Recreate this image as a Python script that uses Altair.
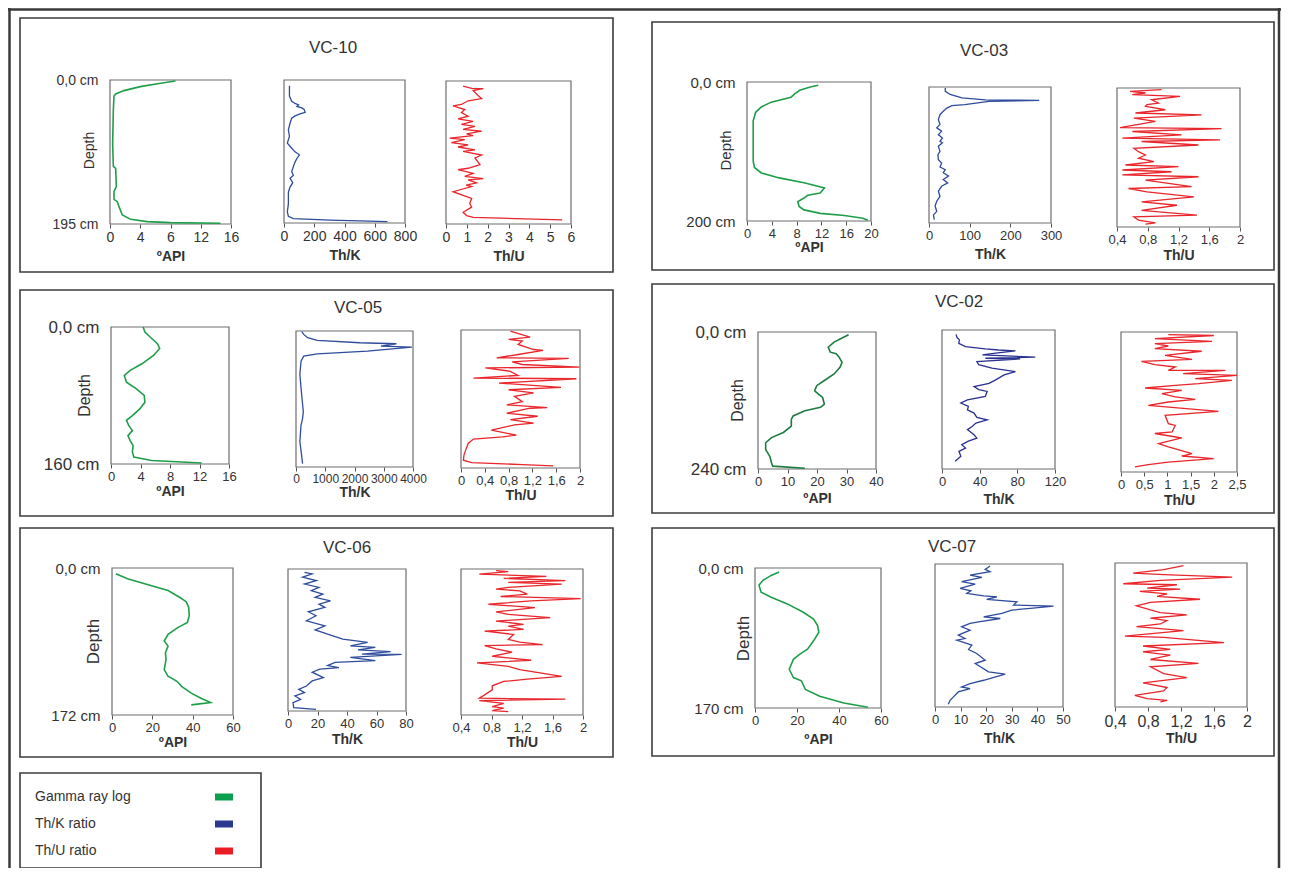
import altair as alt
import pandas as pd

# ---------------- data (depth in cm) ----------------
VC10_GR_DEPTH = [1.4, 4.5, 9, 14.4, 19, 21.7, 40.6, 85.8, 117, 119.7, 144.4, 151, 161.6, 164.8, 171.5, 182.8, 188.7, 191.8, 193.2, 194]
VC10_GR_API = [8.66, 6.7, 4.0, 1.85, 0.75, 0.53, 0.44, 0.35, 0.44, 0.75, 0.84, 0.53, 0.53, 0.97, 1.19, 1.63, 2.73, 4.9, 8.0, 14.6]
VC10_THK_DEPTH = [8, 22, 29, 32, 34, 36, 38, 40, 44, 46, 49, 52, 59, 68, 77, 86, 93, 98, 102, 107, 112, 118, 125, 130, 134, 140, 146, 153, 169, 180, 186, 189, 191, 193]
VC10_THK = [36, 36, 51, 73, 96, 85, 118, 133, 140, 111, 73, 51, 40, 29, 36, 22, 51, 73, 102, 85, 73, 62, 51, 62, 40, 58, 40, 29, 29, 22, 29, 62, 307, 684]
VC10_THU_DEPTH = [7, 10, 10.5, 13, 20, 24, 27, 32, 34, 39, 43, 48, 51.5, 55, 59, 62, 66, 68.5, 72, 74.5, 78, 80, 84, 87, 90, 94, 96, 101, 105, 114, 119, 121, 126, 130, 133, 135, 139, 142, 144, 151, 156, 160, 167, 172, 179, 183.5, 186, 187.6, 189.5]
VC10_THU = [0.82, 1.23, 1.79, 1.3, 1.55, 1.71, 1.06, 0.74, 0.34, 0.9, 0.74, 1.06, 0.58, 1.3, 0.74, 1.39, 0.82, 1.71, 0.99, 1.3, 0.18, 0.9, 0.26, 1.06, 0.58, 1.39, 0.82, 1.71, 1.39, 1.63, 1.06, 0.58, 1.3, 0.9, 1.79, 1.06, 1.47, 0.97, 1.23, 0.34, 0.82, 1.23, 1.14, 1.23, 0.82, 0.99, 1.3, 3.32, 5.58]

VC03_GR_DEPTH = [4.8, 7.3, 12, 17, 21.8, 29, 36, 43.6, 55.7, 113.8, 123, 130.8, 138, 145, 152.5, 159.8, 163, 167, 172, 179, 184, 189, 192, 196, 199]
VC03_GR_API = [11.5, 10.2, 8.5, 7.7, 7.1, 3.9, 2.3, 1.4, 1.0, 1.0, 1.2, 2.3, 5.2, 9.2, 12.5, 11.8, 9.8, 9.2, 8.2, 8.4, 9.2, 11.8, 15.7, 18.7, 19.5]
VC03_THK_DEPTH = [1.5, 6.4, 11, 16, 19, 19.8, 21, 26, 27.5, 31, 35.8, 40.7, 48, 55, 60, 65, 70, 75, 80, 82, 87, 94.6, 99.5, 107, 112, 117.6, 121.6, 126, 131, 136, 141, 146, 153, 161, 168, 175, 183, 188, 195]
VC03_THK = [40, 40, 52, 81, 139, 271, 147, 88, 56, 44, 35, 27, 23, 27, 19, 31, 23, 33, 27, 33, 23, 27, 22, 23, 31, 27, 40, 35, 48, 35, 46, 31, 23, 27, 19, 15, 19, 11, 13]
VC03_THU_DEPTH = [2.4, 4.8, 7.2, 9.6, 12, 16.9, 21.7, 24, 26.5, 31.3, 36, 38.6, 43.4, 48, 57, 58.5, 62.6, 67.5, 72, 74.7, 77, 82, 86.7, 91.6, 96.4, 101, 106, 110.8, 113, 118, 120.5, 125, 127.7, 132.5, 142, 144.6, 149.4, 156.6, 163.9, 168.7, 176, 183, 185.5, 190, 194, 196]
VC03_THU = [0.98, 0.57, 0.77, 0.6, 1.22, 0.85, 0.94, 0.79, 0.77, 1.03, 0.64, 1.5, 0.62, 0.9, 0.44, 1.76, 0.6, 1.24, 0.47, 1.74, 0.72, 1.46, 0.62, 0.68, 0.77, 0.68, 0.88, 0.51, 1.2, 0.47, 1.11, 0.47, 1.46, 0.77, 1.37, 0.55, 0.79, 1.4, 0.72, 1.18, 0.72, 1.44, 0.62, 0.68, 0.9, 0.77]

VC05_GR_DEPTH = [0, 5.9, 11.7, 19.5, 25, 33, 43, 50.7, 56.6, 64.4, 72, 80, 87.8, 95.7, 103.4, 109, 115, 121, 127, 132.7, 138.5, 146, 152, 156, 158.8]
VC05_GR_API = [4.35, 4.6, 5.3, 6.3, 6.6, 5.8, 4.2, 2.6, 1.8, 2.1, 3.4, 4.5, 4.6, 3.9, 2.9, 2.1, 2.4, 2.9, 2.3, 2.6, 3.0, 2.9, 3.1, 5.5, 12.3]
VC05_THK_DEPTH = [0.8, 4, 7.9, 11, 13.8, 15, 17.8, 19, 23.7, 26.9, 29.6, 35.5, 51, 67, 95, 103, 110.6, 130, 148, 156]
VC05_THK = [198, 264, 396, 726, 2178, 3432, 2904, 3960, 2442, 726, 264, 172, 132, 172, 250, 224, 172, 132, 198, 224]
VC05_THU_DEPTH = [1.2, 8.2, 10.9, 12.8, 16.7, 22.6, 23.7, 28.4, 32.3, 33, 37, 40, 43, 44, 47.9, 52.6, 55.7, 56.5, 61.5, 66.6, 69.3, 73, 77, 83, 86.8, 90, 90.7, 96.5, 100, 104, 108, 110, 116, 122, 123.8, 126.5, 131.5, 139, 145, 151, 153.8, 156, 157.6]
VC05_THU = [0.83, 1.16, 0.8, 1.03, 0.96, 1.22, 1.38, 0.96, 0.6, 1.81, 0.86, 1.03, 1.99, 0.41, 0.83, 0.96, 0.21, 1.94, 0.64, 1.68, 0.8, 1.22, 0.9, 1.03, 0.77, 1.45, 1.16, 0.77, 1.29, 0.83, 1.22, 0.9, 0.51, 0.93, 0.7, 0.21, 0.12, 0.08, 0.05, 0.04, 0.18, 1.03, 1.55]

VC02_GR_DEPTH = [4.7, 10.6, 17.6, 26.5, 35.3, 38, 44, 53, 61.8, 73.5, 85, 94, 103, 108.8, 114.7, 126.5, 132, 138, 147, 153, 164.7, 176, 185, 194, 206, 217.6, 229.4, 235, 238.8]
VC02_GR_API = [30.7, 28.5, 25.8, 23.8, 24.5, 26.5, 27.5, 28.5, 27.8, 25.8, 22.5, 19.9, 19.2, 20.5, 21.9, 22.5, 21.2, 15.9, 11.9, 11.3, 11.3, 8.6, 4.6, 2.6, 2.6, 4.0, 4.6, 5.0, 15.9]
VC02_THK_DEPTH = [7.5, 13, 17, 23, 28.7, 32.7, 34.5, 36, 40, 43, 47, 48.8, 50, 54.5, 60, 66, 71.8, 77.5, 86, 92, 97.6, 103, 106, 114.8, 120.6, 126, 132, 137.8, 143.5, 151, 155, 160.8, 166.5, 172, 181, 186.7, 192, 198, 203.8, 209.5, 218, 226.8]
VC02_THK = [14.9, 16, 18.5, 17.8, 24.9, 46, 60, 78, 57, 43, 99, 46, 83, 37, 39, 53, 78, 66, 57, 50, 34, 39, 48, 46, 27, 20, 28, 27, 34, 37, 48, 36, 32, 27, 34, 37, 28, 21, 25, 18, 20, 14]
VC02_THU_DEPTH = [4.5, 6, 11.4, 16, 20, 24, 28.6, 33, 40, 46.9, 50.4, 56, 60, 65.7, 65.8, 71.4, 74.3, 80, 82.8, 88.6, 91.4, 96, 100, 105.7, 111.4, 115.4, 120, 125.7, 136, 142.8, 157, 160, 171.4, 174, 181.7, 191.4, 197, 208.6, 212.6, 217, 223, 227.4, 231.4]
VC02_THU = [1.02, 2.0, 0.73, 1.96, 0.73, 1.02, 0.73, 1.74, 0.95, 1.53, 0.44, 0.73, 1.17, 1.02, 2.25, 1.34, 2.5, 1.6, 2.39, 1.67, 1.17, 0.52, 1.31, 0.88, 1.17, 1.6, 1.02, 0.59, 2.1, 0.95, 1.02, 1.17, 1.1, 0.73, 1.31, 0.81, 1.02, 1.53, 1.31, 2.0, 1.02, 0.59, 0.3]

VC06_GR_DEPTH = [6.7, 12.6, 20.5, 26.4, 34.2, 39.4, 46, 55.9, 63.8, 69.7, 77.5, 85.4, 91.3, 99.2, 107, 118.9, 126.7, 132.6, 138.5, 146.4, 152.3, 157.4, 160.2]
VC06_GR_API = [1.9, 7.7, 19.2, 27.8, 33.5, 36.8, 38, 38.3, 37.4, 32.6, 27.8, 25.9, 27.8, 26.5, 26.8, 25.9, 27.8, 32.2, 34.5, 39.3, 44.1, 48.9, 39.3]
VC06_THK_DEPTH = [4, 6, 10, 14, 18.2, 22.3, 26.3, 30.4, 34.4, 38.5, 42.5, 46.5, 51.8, 56.6, 62.7, 68.8, 73.7, 79, 85, 89, 93, 95, 98, 100, 103, 103.5, 107, 111, 113, 117, 119.4, 121.4, 125, 131.5, 135.6, 141.7, 145.7, 149.8, 153.8, 157.9, 162, 168, 170]
VC06_THK = [11.2, 16.4, 9.9, 19.2, 11.2, 21, 15.8, 23.6, 18.4, 28.8, 21, 25, 13.8, 19, 12.5, 25, 18.4, 26.8, 37.1, 54, 42.3, 59.2, 47.5, 69.6, 50.2, 77, 42.3, 59.2, 31.9, 26.8, 34.5, 21.6, 16.4, 24, 16.4, 12.5, 7.3, 11.2, 4.7, 8.6, 3.4, 3.9, 19]
VC06_THU_DEPTH = [2, 3, 6, 8.7, 11, 13.8, 15.8, 17.8, 21.7, 23.7, 25.7, 29.7, 32.4, 34.8, 37.6, 41.5, 45.5, 50.6, 53.4, 57.3, 61.3, 65.2, 67.2, 71.2, 73.1, 77.1, 83, 86.2, 89, 90.2, 94.2, 98, 102.8, 107.5, 110.7, 114.7, 118.6, 126.6, 129.7, 132.5, 137.6, 142.4, 148.3, 152.2, 153.4, 155, 158.2, 162.2, 164, 166.9, 168]
VC06_THU = [0.86, 1.02, 0.64, 1.52, 0.96, 1.77, 1.02, 1.72, 1.02, 0.86, 1.17, 1.27, 0.92, 1.97, 1.32, 0.76, 1.37, 0.86, 1.02, 1.57, 0.86, 1.22, 1.02, 1.22, 0.71, 1.09, 1.02, 1.17, 1.47, 0.71, 0.86, 1.07, 0.81, 1.32, 0.61, 1.02, 1.17, 1.72, 1.27, 0.96, 0.81, 0.81, 0.71, 0.64, 1.77, 0.64, 0.96, 0.81, 0.96, 0.81, 1.02]

VC07_GR_DEPTH = [4.9, 9, 15, 21, 29.4, 35.5, 43.6, 53.8, 62, 70, 78, 88.4, 98.6, 104.8, 110.9, 123, 133, 137, 147.5, 155.7, 163.9, 169]
VC07_GR_API = [11.5, 7.7, 3.8, 1.9, 2.9, 7.7, 15.4, 23, 27.9, 29.8, 30.4, 27.9, 25, 21.2, 18.3, 16.3, 18.3, 22.1, 24, 30.8, 42.3, 53.8]
VC07_THK_DEPTH = [2.4, 6.4, 9.1, 13.1, 15.9, 21, 23.8, 29, 31.8, 35, 38, 39, 42, 44.9, 48.8, 50, 52.8, 54.8, 58.8, 62.8, 64.8, 68.7, 70.7, 74.7, 78.7, 84.6, 88.6, 90.6, 96.5, 101.6, 106.4, 114.4, 118.3, 128.2, 131, 138.2, 142.2, 146.2, 148.1, 152.1, 158, 162, 166.8]
VC07_THK = [21.5, 19.6, 21.5, 13.7, 18.3, 10.4, 15.7, 9.8, 14, 12.4, 19, 24.2, 20.2, 32, 30.7, 46.3, 37.2, 30, 26.1, 19, 25.5, 17, 13.7, 10.4, 13.7, 9.1, 11.7, 8.5, 14.4, 13.1, 16.3, 19.6, 15.7, 20.9, 27.4, 19, 13.7, 10.4, 13.7, 9.1, 7.2, 5.9, 5.2]
VC07_THU_DEPTH = [3.2, 7.9, 11.9, 13.8, 16.6, 20.6, 24.5, 25.7, 29.6, 30.8, 33.6, 36.4, 39.5, 42.8, 46.6, 50.6, 55.4, 58.5, 61.3, 65.2, 68, 72, 75.1, 79.9, 86.3, 87.8, 94, 98, 102, 104.8, 108.7, 113.9, 118.6, 122.6, 130.5, 135.2, 141.6, 147, 151, 156.2, 160.2, 162.1, 164]
VC07_THU = [1.23, 0.99, 0.62, 0.99, 1.82, 0.95, 0.5, 1.15, 0.79, 1.19, 0.7, 1.03, 0.91, 1.43, 0.83, 0.66, 0.83, 0.95, 1.27, 0.83, 1.03, 0.95, 0.66, 1.23, 0.52, 0.99, 1.72, 0.74, 1.07, 0.74, 1.07, 0.83, 1.41, 0.83, 0.99, 1.27, 0.74, 1.03, 0.99, 0.64, 0.79, 1.03, 0.95]

CORE_NAMES = ["VC-10", "VC-03", "VC-05", "VC-02", "VC-06", "VC-07"]
CORE_DEPTHS = [195, 200, 160, 240, 172, 170]
LEGEND_LABELS = ["Gamma ray log", "Th/K ratio", "Th/U ratio"]

# ---------------- layout / style ----------------
W, H = 1273, 860
OFF = 8
FONT = "Liberation Sans"
DARK = "#333333"
FRAME = "#6e6e6e"
GREEN, BLUE, RED = "#1f9e4a", "#2f4c9c", "#e8262b"
GREEN_D, BLUE_D = "#1e7b40", "#2a318f"
LEG_COLORS = ["#0b9e4f", "#2c3990", "#ec1c24"]


def P(v):
    return v - OFF


def one():
    return alt.Data(values=[{"k": 0}])


COMMA = "replace(toString(datum.value), '.', ',')"


def subplot(depths, values, dmax, dom, ticks, box, color, xtitle, lab_fs,
            width=1.3, ylabel=None, ylab_fs=14, depth_xy=None, depth_fs=14,
            label_expr=COMMA, title_pad=3):
    assert len(depths) == len(values)
    x0, x1, y0, y1 = P(box[0]), P(box[1]), P(box[2]), P(box[3])
    xs = alt.Scale(domain=dom, range=[x0, x1], nice=False, zero=False)
    ys = alt.Scale(domain=[0, dmax], range=[y0, y1], nice=False, zero=False)
    xaxis = alt.Axis(orient="bottom", offset=y1 - H, values=ticks, title=xtitle,
                     labelExpr=label_expr, grid=False, domain=False, ticks=True,
                     tickSize=4, tickColor="#555555", labelFontSize=lab_fs,
                     labelColor=DARK, labelPadding=2, labelOverlap=False,
                     labelFlush=False, labelFont=FONT, titleFont=FONT,
                     titleFontSize=14, titleFontWeight="bold", titleColor=DARK,
                     titlePadding=title_pad)
    if ylabel:
        yaxis = alt.Axis(orient="left", offset=-x0, values=[0, dmax],
                         labelExpr=f"datum.value == 0 ? '0,0 cm' : '{ylabel}'",
                         grid=False, domain=False, ticks=False, labelFontSize=ylab_fs,
                         labelColor=DARK, labelPadding=12, labelOverlap=False,
                         labelFont=FONT, labelBaseline="middle",
                         title="Depth", titleFont=FONT, titleFontSize=depth_fs,
                         titleFontWeight="normal", titleColor=DARK,
                         titleAngle=270, titleAlign="center", titleBaseline="middle",
                         titleX=P(depth_xy[0]) - x0, titleY=P(depth_xy[1]))
    else:
        yaxis = None
    df = pd.DataFrame({"depth": depths, "v": values, "i": list(range(len(depths)))})
    frame = alt.Chart(one()).mark_rect(fill="transparent", stroke=FRAME, strokeWidth=1.2).encode(
        x=alt.XDatum(dom[0], type="quantitative", scale=xs, axis=None),
        x2=alt.X2Datum(dom[1]),
        y=alt.YDatum(0, type="quantitative", scale=ys, axis=None),
        y2=alt.Y2Datum(dmax),
    )
    line = alt.Chart(df).mark_line(color=color, strokeWidth=width).encode(
        x=alt.X("v:Q", scale=xs, axis=xaxis),
        y=alt.Y("depth:Q", scale=ys, axis=yaxis),
        order=alt.Order("i:Q"),
    )
    return [frame, line]


def box_layer(x0, y0, x1, y1, color="#3c3c3c", sw=1.6):
    return alt.Chart(one()).mark_rect(fill="transparent", stroke=color, strokeWidth=sw).encode(
        x=alt.value(P(x0)), x2=alt.value(P(x1)), y=alt.value(P(y0)), y2=alt.value(P(y1)))


def text_layer(txt, x, y, size, align="center", weight="normal"):
    return alt.Chart(one()).mark_text(text=txt, fontSize=size, align=align, baseline="middle",
                                      fontWeight=weight, color=DARK, font=FONT).encode(
        x=alt.value(P(x)), y=alt.value(P(y)))


layers = []

# panel boxes and titles
PANEL_BOXES = [(20, 18, 613, 272), (652, 22, 1274, 270), (20, 290, 613, 516),
               (652, 284, 1274, 513), (20, 528, 613, 757), (652, 528, 1274, 756)]
TITLE_POS = [(333, 48), (984, 51), (358, 308), (959, 302), (347, 548), (952, 547)]
for b, name, tp in zip(PANEL_BOXES, CORE_NAMES, TITLE_POS):
    layers.append(box_layer(*b))
    layers.append(text_layer(name, tp[0], tp[1], 17))

# VC-10
layers += subplot(VC10_GR_DEPTH, VC10_GR_API, 195, [0, 16], [0, 4, 8, 12, 16], (110, 231, 80, 224),
                  GREEN, "ºAPI", 14, width=1.6, ylabel="195 cm", ylab_fs=14, depth_xy=(89, 150), depth_fs=14,
                  label_expr="datum.value == 8 ? '6' : " + COMMA, title_pad=5)
layers += subplot(VC10_THK_DEPTH, VC10_THK, 195, [0, 800], [0, 200, 400, 600, 800], (284, 405, 80, 223),
                  BLUE, "Th/K", 14, title_pad=5)
layers += subplot(VC10_THU_DEPTH, VC10_THU, 195, [0, 6], [0, 1, 2, 3, 4, 5, 6], (446, 571, 81, 224),
                  RED, "Th/U", 14, title_pad=5)
# VC-03
layers += subplot(VC03_GR_DEPTH, VC03_GR_API, 200, [0, 20], [0, 4, 8, 12, 16, 20], (747, 871, 82, 221),
                  GREEN, "ºAPI", 13, width=1.6, ylabel="200 cm", ylab_fs=15, depth_xy=(725, 150), depth_fs=15,
                  title_pad=0)
layers += subplot(VC03_THK_DEPTH, VC03_THK, 200, [0, 300], [0, 100, 200, 300], (929, 1051, 87, 223),
                  BLUE, "Th/K", 13, title_pad=5)
layers += subplot(VC03_THU_DEPTH, VC03_THU, 200, [0.4, 2], [0.4, 0.8, 1.2, 1.6, 2], (1117, 1240, 88, 227),
                  RED, "Th/U", 13, title_pad=2)
# VC-05
layers += subplot(VC05_GR_DEPTH, VC05_GR_API, 160, [0, 16], [0, 4, 8, 12, 16], (111, 229, 327, 464),
                  GREEN, "ºAPI", 13, width=1.6, ylabel="160 cm", ylab_fs=17, depth_xy=(84, 395), depth_fs=16,
                  title_pad=1)
layers += subplot(VC05_THK_DEPTH, VC05_THK, 160, [0, 4000], [0, 1000, 2000, 3000, 4000], (296, 413, 331, 467),
                  BLUE, "Th/K", 12, title_pad=1)
layers += subplot(VC05_THU_DEPTH, VC05_THU, 160, [0, 2], [0, 0.4, 0.8, 1.2, 1.6, 2], (461, 580, 330, 468),
                  RED, "Th/U", 13, title_pad=1)
# VC-02
layers += subplot(VC02_GR_DEPTH, VC02_GR_API, 240, [0, 40], [0, 10, 20, 30, 40], (758, 876, 332, 469),
                  GREEN_D, "ºAPI", 13, width=1.6, ylabel="240 cm", ylab_fs=17, depth_xy=(737, 400), depth_fs=16,
                  title_pad=3)
layers += subplot(VC02_THK_DEPTH, VC02_THK, 240, [0, 120], [0, 40, 80, 120], (942, 1055, 330, 469),
                  BLUE_D, "Th/K", 13, title_pad=4)
layers += subplot(VC02_THU_DEPTH, VC02_THU, 240, [0, 2.5], [0, 0.5, 1, 1.5, 2, 2.5], (1121, 1237, 332, 472),
                  RED, "Th/U", 13, title_pad=2)
# VC-06
layers += subplot(VC06_GR_DEPTH, VC06_GR_API, 172, [0, 60], [0, 20, 40, 60], (112, 233, 568, 715),
                  GREEN, "ºAPI", 13, width=1.6, ylabel="172 cm", ylab_fs=15, depth_xy=(93, 641), depth_fs=17,
                  title_pad=1)
layers += subplot(VC06_THK_DEPTH, VC06_THK, 172, [0, 80], [0, 20, 40, 60, 80], (288, 406, 569, 711),
                  BLUE, "Th/K", 13, title_pad=2)
layers += subplot(VC06_THU_DEPTH, VC06_THU, 172, [0.4, 2], [0.4, 0.8, 1.2, 1.6, 2], (461, 583, 569, 715),
                  RED, "Th/U", 13, title_pad=1)
# VC-07
layers += subplot(VC07_GR_DEPTH, VC07_GR_API, 170, [0, 60], [0, 20, 40, 60], (755, 881, 568, 708),
                  GREEN, "ºAPI", 13, width=1.6, ylabel="170 cm", ylab_fs=15, depth_xy=(743, 638), depth_fs=17,
                  title_pad=5)
layers += subplot(VC07_THK_DEPTH, VC07_THK, 170, [0, 50], [0, 10, 20, 30, 40, 50], (935, 1063, 564, 707),
                  BLUE, "Th/K", 13, title_pad=5)
layers += subplot(VC07_THU_DEPTH, VC07_THU, 170, [0.4, 2], [0.4, 0.8, 1.2, 1.6, 2], (1115, 1247, 563, 707),
                  RED, "Th/U", 16, title_pad=2)

# legend
layers.append(box_layer(20, 773, 261, 868))
for lab, col, yy in zip(LEGEND_LABELS, LEG_COLORS, [797, 824, 851]):
    layers.append(text_layer(lab, 35, yy, 14, align="left"))
    layers.append(alt.Chart(one()).mark_rect(color=col).encode(
        x=alt.value(P(215)), x2=alt.value(P(233)), y=alt.value(P(yy - 3.5)), y2=alt.value(P(yy + 3.5))))

# outer frame lines
layers.append(alt.Chart(one()).mark_rule(color="#3a3a3a", strokeWidth=2.5).encode(
    x=alt.value(1.5), y=alt.value(0), y2=alt.value(H)))
layers.append(alt.Chart(one()).mark_rule(color="#3a3a3a", strokeWidth=2.5).encode(
    x=alt.value(W - 2), y=alt.value(0), y2=alt.value(H)))
layers.append(alt.Chart(one()).mark_rule(color="#3a3a3a", strokeWidth=2.5).encode(
    x=alt.value(0), x2=alt.value(W), y=alt.value(1.5)))

chart = (
    alt.layer(*layers)
    .resolve_scale(x="independent", y="independent")
    .properties(width=W, height=H, autosize=alt.AutoSizeParams(type="none"), padding=0)
    .configure(font=FONT, background="white")
    .configure_view(strokeOpacity=0)
)

chart.save("out.html", embed_options={"renderer": "svg", "actions": False})
